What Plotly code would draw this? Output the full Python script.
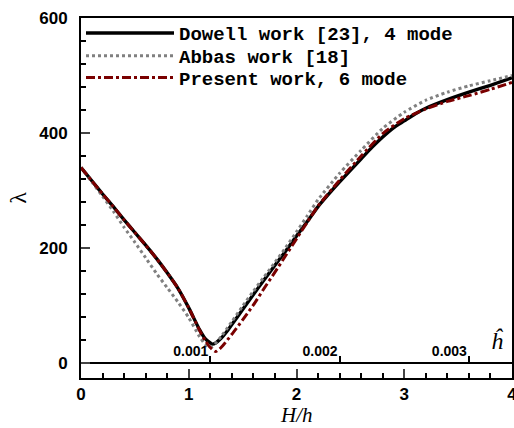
import plotly.graph_objects as go

# ---- data ----
x_dowell = [0, 0.1, 0.2, 0.3, 0.4, 0.5, 0.6, 0.7, 0.8, 0.9, 1.0, 1.1, 1.15, 1.2, 1.22, 1.25,
            1.3, 1.35, 1.4, 1.5, 1.6, 1.7, 1.8, 1.9, 2.0, 2.1, 2.2, 2.3, 2.4, 2.5, 2.6, 2.7,
            2.8, 2.9, 3.0, 3.1, 3.2, 3.4, 3.6, 3.8, 4.0]
y_dowell = [340, 317, 294, 272, 249, 227, 205, 182, 157, 130, 96, 58, 43, 35, 33, 35,
            43, 54, 67, 93, 119, 145, 170, 195, 221, 246, 272, 294, 315, 335, 355, 375,
            393, 409, 421, 433, 443, 458, 471, 483, 496]

x_abbas = [0, 0.1, 0.2, 0.3, 0.4, 0.5, 0.6, 0.7, 0.8, 0.9, 1.0, 1.1, 1.15, 1.18, 1.22,
           1.3, 1.4, 1.5, 1.6, 1.7, 1.8, 1.9, 2.0, 2.1, 2.2, 2.4, 2.6, 2.8, 3.0, 3.2,
           3.4, 3.6, 3.8, 4.0]
y_abbas = [340, 315, 290, 264, 236, 210, 183, 156, 131, 106, 79, 46, 33, 28, 29,
           46, 72, 99, 125, 150, 175, 201, 228, 256, 284, 330, 370, 408, 436, 457,
           471, 482, 491, 500]

x_present = [0, 0.1, 0.2, 0.3, 0.4, 0.5, 0.6, 0.7, 0.8, 0.9, 1.0, 1.1, 1.15, 1.2, 1.25,
             1.3, 1.4, 1.5, 1.6, 1.7, 1.8, 1.9, 2.0, 2.1, 2.2, 2.4, 2.6, 2.8, 3.0, 3.2,
             3.4, 3.6, 3.8, 4.0]
y_present = [340, 317, 294, 272, 249, 227, 205, 182, 157, 130, 96, 57, 40, 27, 20,
             27, 50, 75, 101, 130, 158, 187, 216, 245, 273, 318, 360, 399, 425, 442,
             455, 465, 476, 488]

x_ticks = [0, 1, 2, 3, 4]
y_ticks = [0, 200, 400, 600]
hhat_ticks = [0.001, 0.002, 0.003]
hhat_per_Hh = 1 / 1200.0

names = ["Dowell work [23], 4 mode", "Abbas work [18]", "Present work, 6 mode"]

fig = go.Figure()
fig.add_trace(go.Scatter(x=x_dowell, y=y_dowell, mode="lines", name=names[0], legend="legend",
                         line=dict(color="black", width=3.4, shape="spline", smoothing=0.6)))
fig.add_trace(go.Scatter(x=x_abbas, y=y_abbas, mode="lines", name=names[1], legend="legend2",
                         line=dict(color="#808080", width=3, dash="dot", shape="spline", smoothing=0.6)))
fig.add_trace(go.Scatter(x=x_present, y=y_present, mode="lines", name=names[2], legend="legend3",
                         line=dict(color="#7a0000", width=3, dash="dashdot", shape="spline", smoothing=0.6)))
# empty trace to carry the secondary h-hat axis
fig.add_trace(go.Scatter(x=hhat_ticks, y=[None] * len(hhat_ticks), xaxis="x2", yaxis="y",
                         showlegend=False, hoverinfo="skip", mode="lines"))

ymin, ymax = -26, 600
tickfont = dict(family="Liberation Sans, Arial", size=17, color="black", weight="bold")
legfont = dict(family="Liberation Mono, Courier New", size=19, color="black", weight="bold")
serif_it = dict(family="Liberation Serif, Times New Roman", size=21, style="italic", color="black")


def leg(y):
    return dict(x=0.0, y=y, xanchor="left", yanchor="middle", font=legfont,
                bgcolor="rgba(255,255,255,0)", borderwidth=0, itemwidth=88)


fig.update_layout(
    width=514, height=428,
    margin=dict(l=81, r=2, t=18, b=50),
    plot_bgcolor="white", paper_bgcolor="white",
    showlegend=True,
    legend=leg(0.958), legend2=leg(0.895), legend3=leg(0.834),
    xaxis=dict(range=[0, 4], tickvals=x_ticks, ticks="inside", ticklen=9, tickwidth=2,
               showline=True, linewidth=2, linecolor="black", mirror=True,
               showgrid=False, zeroline=False, tickfont=tickfont, automargin=False,
               ticklabeloverflow="allow", ticklabelstandoff=0,
               minor=dict(dtick=0.2, ticks="inside", ticklen=5, tickwidth=1.5, tickcolor="black", showgrid=False)),
    yaxis=dict(range=[ymin, ymax], tickvals=y_ticks, ticks="inside", ticklen=9, tickwidth=2,
               showline=True, linewidth=2, linecolor="black", mirror=True, automargin=False,
               showgrid=False, zeroline=False, tickfont=tickfont, ticklabelstandoff=8,
               minor=dict(dtick=40, ticks="inside", ticklen=5, tickwidth=1.5, tickcolor="black", showgrid=False),
               title=dict(text="λ", standoff=6,
                          font=dict(family="Liberation Serif, Times New Roman", size=24, color="black"))),
    xaxis2=dict(overlaying="x", anchor="free", side="top",
                position=(0 - ymin) / (ymax - ymin),
                range=[0, 4 * hhat_per_Hh], tickvals=hhat_ticks, tickformat=".3f",
                ticks="outside", ticklen=6, tickwidth=2, tickcolor="black",
                ticklabelposition="outside left", automargin=False,
                showline=True, linewidth=2, linecolor="black", showgrid=False, zeroline=False,
                tickfont=dict(family="Liberation Sans, Arial", size=14, color="black", weight="bold")),
    annotations=[
        dict(text="H/h", xref="paper", yref="paper", x=0.5, y=-50 / 360, xanchor="center", yanchor="bottom",
             showarrow=False, font=serif_it, borderpad=0),
        dict(text="ĥ", xref="paper", yref="y", x=0.985, y=38, showarrow=False,
             font=dict(family="Liberation Serif, Times New Roman", size=24, style="italic", color="black")),
    ],
)

fig.write_html("out.html")
